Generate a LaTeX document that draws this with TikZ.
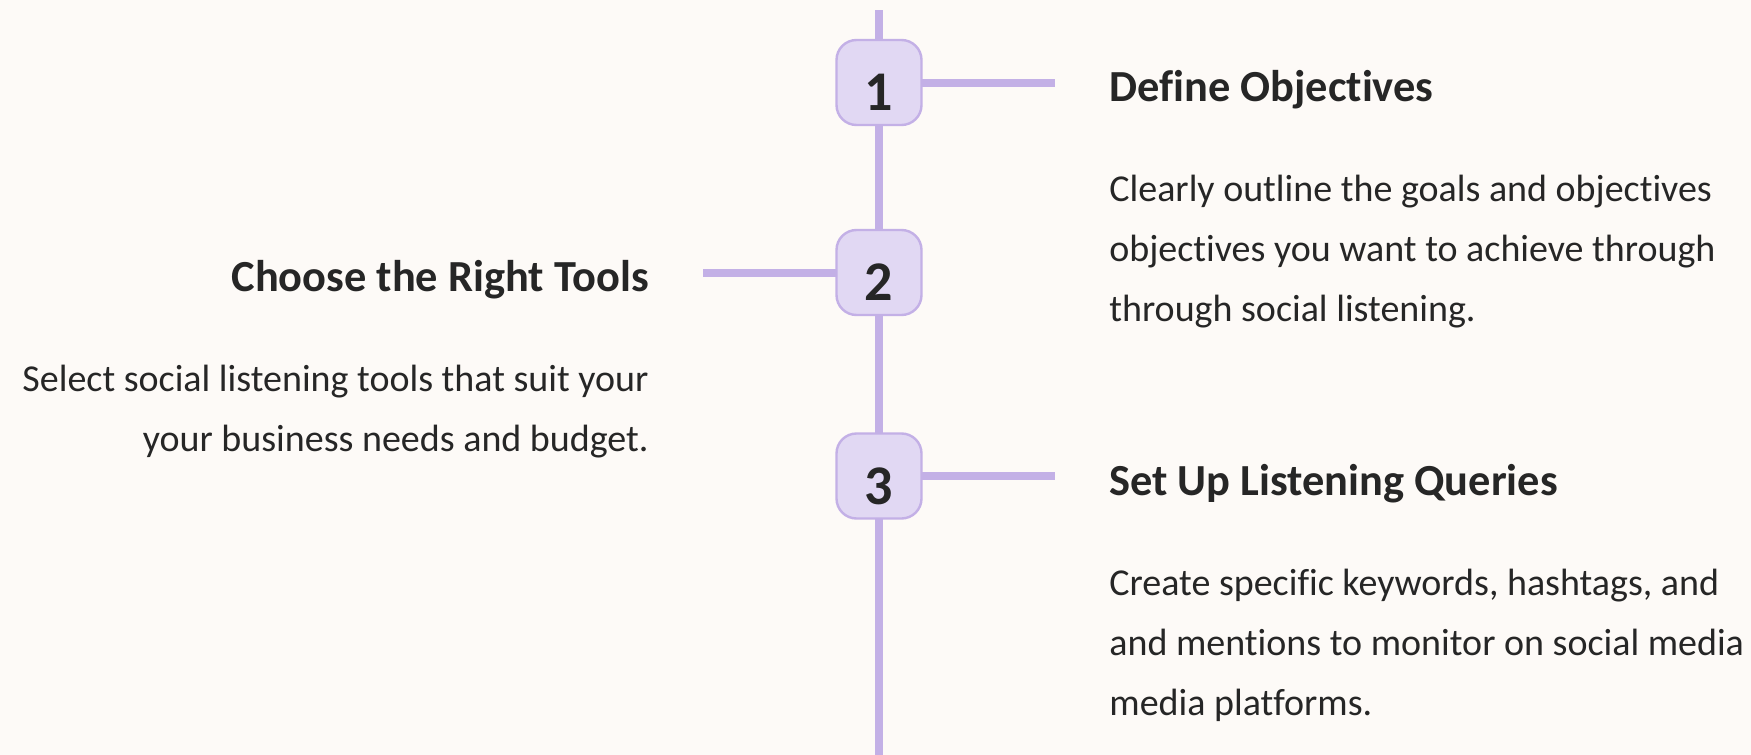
\documentclass[tikz,border=0pt]{standalone}
\usepackage{fontspec}
\setmainfont{Carlito}[Ligatures=NoCommon]
\definecolor{bgc}{RGB}{253,250,247}
\definecolor{linec}{RGB}{195,176,230}
\definecolor{boxfill}{RGB}{225,216,243}
\definecolor{ink}{RGB}{38,38,38}
\pgfdeclarelayer{background}
\pgfsetlayers{background,main}
\begin{document}
\begin{tikzpicture}[x=0.5pt,y=-0.5pt,
  stepbox/.style={draw=linec, fill=boxfill, line width=1.2pt, rounded corners=10pt,
                  minimum size=42.5pt, inner sep=0pt},
  stepnum/.style={text=ink, font=\fontsize{28}{28}\selectfont\bfseries, inner sep=0pt},
  rail/.style={draw=linec, line width=4pt},
  title/.style={text=ink, font=\fontsize{22.2}{22.2}\selectfont\bfseries, inner sep=0pt},
  body/.style={text=ink, font=\fontsize{19}{19}\selectfont, inner sep=0pt},
]
\useasboundingbox (0,0) rectangle (1751,755);

% timeline ends and stub ends
\coordinate (top) at (879,10);
\coordinate (bot) at (879,755);
\coordinate (c1) at (1055,82.5);
\coordinate (c2) at (703,272.5);
\coordinate (c3) at (1055,476);

% step boxes
\node[stepbox] (b1) at (879,82.5) {};
\node[stepbox] (b2) at (879,272.5) {};
\node[stepbox] (b3) at (879,476) {};
\node[stepnum] (n1) at ([yshift=-5pt]b1.center) {1};
\node[stepnum] (n2) at ([yshift=-5pt]b2.center) {2};
\node[stepnum] (n3) at ([yshift=-5pt]b3.center) {3};

\begin{pgfonlayer}{background}
  \fill[bgc] (0,0) rectangle (1751,755);
  \draw[rail] (top) -- (b1.center);
  \draw[rail] (b1.center) -- (b2.center);
  \draw[rail] (b2.center) -- (b3.center);
  \draw[rail] (b3.center) -- (bot);
  \draw[rail] (b1.center) -- (c1);
  \draw[rail] (b2.center) -- (c2);
  \draw[rail] (b3.center) -- (c3);
\end{pgfonlayer}

% step 1
\node[title, anchor=base west] (t1) at (1109,101.7) {Define Objectives};
\node[body, anchor=base west] (d1a) at (1109,201.7) {Clearly outline the goals and objectives};
\node[body, anchor=base west] (d1b) at (1109,261.7) {objectives you want to achieve through};
\node[body, anchor=base west] (d1c) at (1109,321.7) {through social listening.};

% step 2
\node[title, anchor=base east] (t2) at (649,291.7) {Choose the Right Tools};
\node[body, anchor=base east] (d2a) at (649,391.7) {Select social listening tools that suit your};
\node[body, anchor=base east] (d2b) at (649,451.7) {your business needs and budget.};

% step 3
\node[title, anchor=base west] (t3) at (1109,495) {Set Up Listening Queries};
\node[body, anchor=base west] (d3a) at (1109,595) {Create specific keywords, hashtags, and};
\node[body, anchor=base west] (d3b) at (1109,655) {and mentions to monitor on social media};
\node[body, anchor=base west] (d3c) at (1109,715) {media platforms.};
\end{tikzpicture}
\end{document}
